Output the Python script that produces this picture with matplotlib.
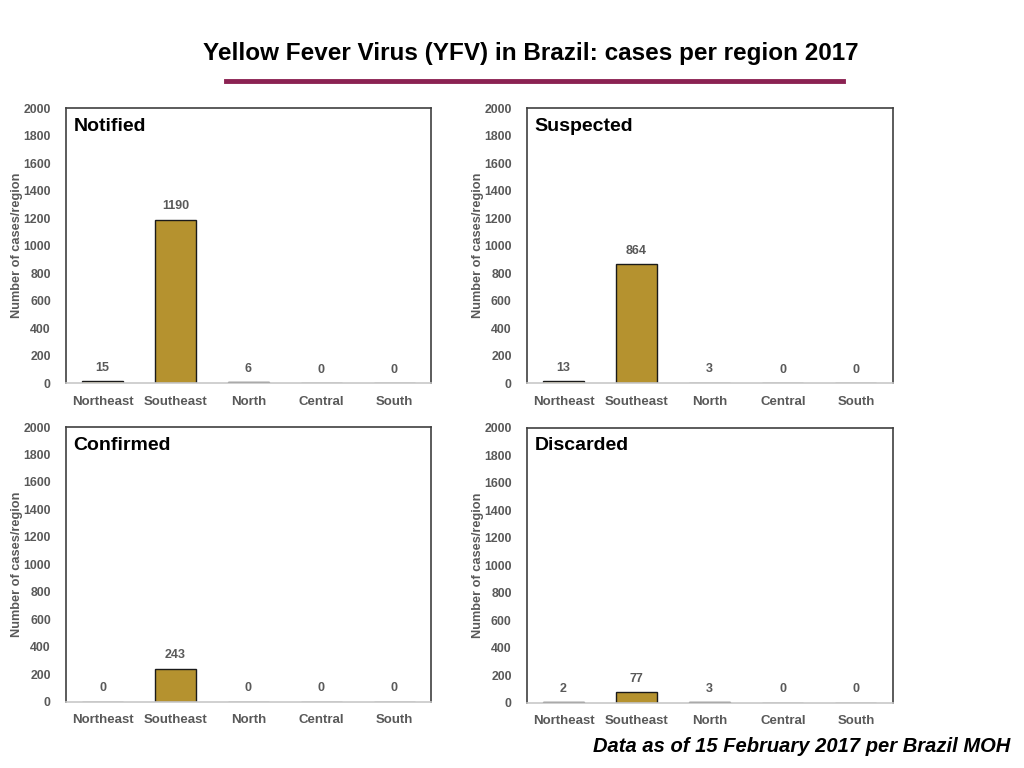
import matplotlib
matplotlib.use('Agg')
import matplotlib.pyplot as plt
from matplotlib.lines import Line2D

plt.rcParams['font.family'] = ['Liberation Sans', 'DejaVu Sans']

# Données
regions = ['Northeast', 'Southeast', 'North', 'Central', 'South']
notified = [15, 1190, 6, 0, 0]
suspected = [13, 864, 3, 0, 0]
confirmed = [0, 243, 0, 0, 0]
discarded = [2, 77, 3, 0, 0]
yticks = [0, 200, 400, 600, 800, 1000, 1200, 1400, 1600, 1800, 2000]

panels = [
    ('Notified', notified, [0.0645, 0.501, 0.356, 0.358]),
    ('Suspected', suspected, [0.5146, 0.501, 0.357, 0.358]),
    ('Confirmed', confirmed, [0.0645, 0.086, 0.356, 0.358]),
    ('Discarded', discarded, [0.5146, 0.085, 0.357, 0.358]),
]

bar_color = '#B5922F'
gray = '#595959'

fig = plt.figure(figsize=(10.24, 7.68), dpi=100)

# Titre et ligne décorative
fig.text(0.518, 0.93, 'Yellow Fever Virus (YFV) in Brazil: cases per region 2017',
         ha='center', va='center', fontsize=17.5, fontweight='bold', color='black')
fig.add_artist(Line2D([0.221, 0.823], [0.894, 0.894], transform=fig.transFigure,
                      color='#8B2252', linewidth=3.5))

for name, values, pos in panels:
    ax = fig.add_axes(pos)
    x = range(len(regions))
    ax.bar(x, values, width=0.56, color=bar_color, edgecolor='#1a1a1a', linewidth=1.0)
    for xi, v in zip(x, values):
        ax.text(xi, v + 55, str(v), ha='center', va='bottom', fontsize=9,
                fontweight='bold', color=gray)
    ax.set_xlim(-0.5, len(regions) - 0.5)
    ax.set_ylim(0, 2000)
    ax.set_yticks(yticks)
    ax.set_yticklabels([str(t) for t in yticks], fontsize=8.8, fontweight='bold', color=gray)
    ax.set_xticks(list(x))
    ax.set_xticklabels(regions, fontsize=9.5, fontweight='bold', color=gray)
    ax.tick_params(length=0, pad=9)
    ax.tick_params(axis='y', pad=11)
    for side in ['left', 'top', 'right']:
        ax.spines[side].set_color('#404040')
        ax.spines[side].set_linewidth(1.2)
    ax.spines['bottom'].set_color('#c8c8c8')
    ax.spines['bottom'].set_linewidth(1.2)
    ax.set_ylabel('Number of cases/region', fontsize=9.2, fontweight='bold', color=gray, labelpad=0)
    ax.text(0.02, 0.965, name, transform=ax.transAxes, ha='left', va='top',
            fontsize=14, fontweight='bold', color='black')

fig.text(0.987, 0.028, 'Data as of 15 February 2017 per Brazil MOH', ha='right', va='center',
         fontsize=14.5, fontweight='bold', fontstyle='italic', color='black')

fig.savefig('out.png', dpi=100)
